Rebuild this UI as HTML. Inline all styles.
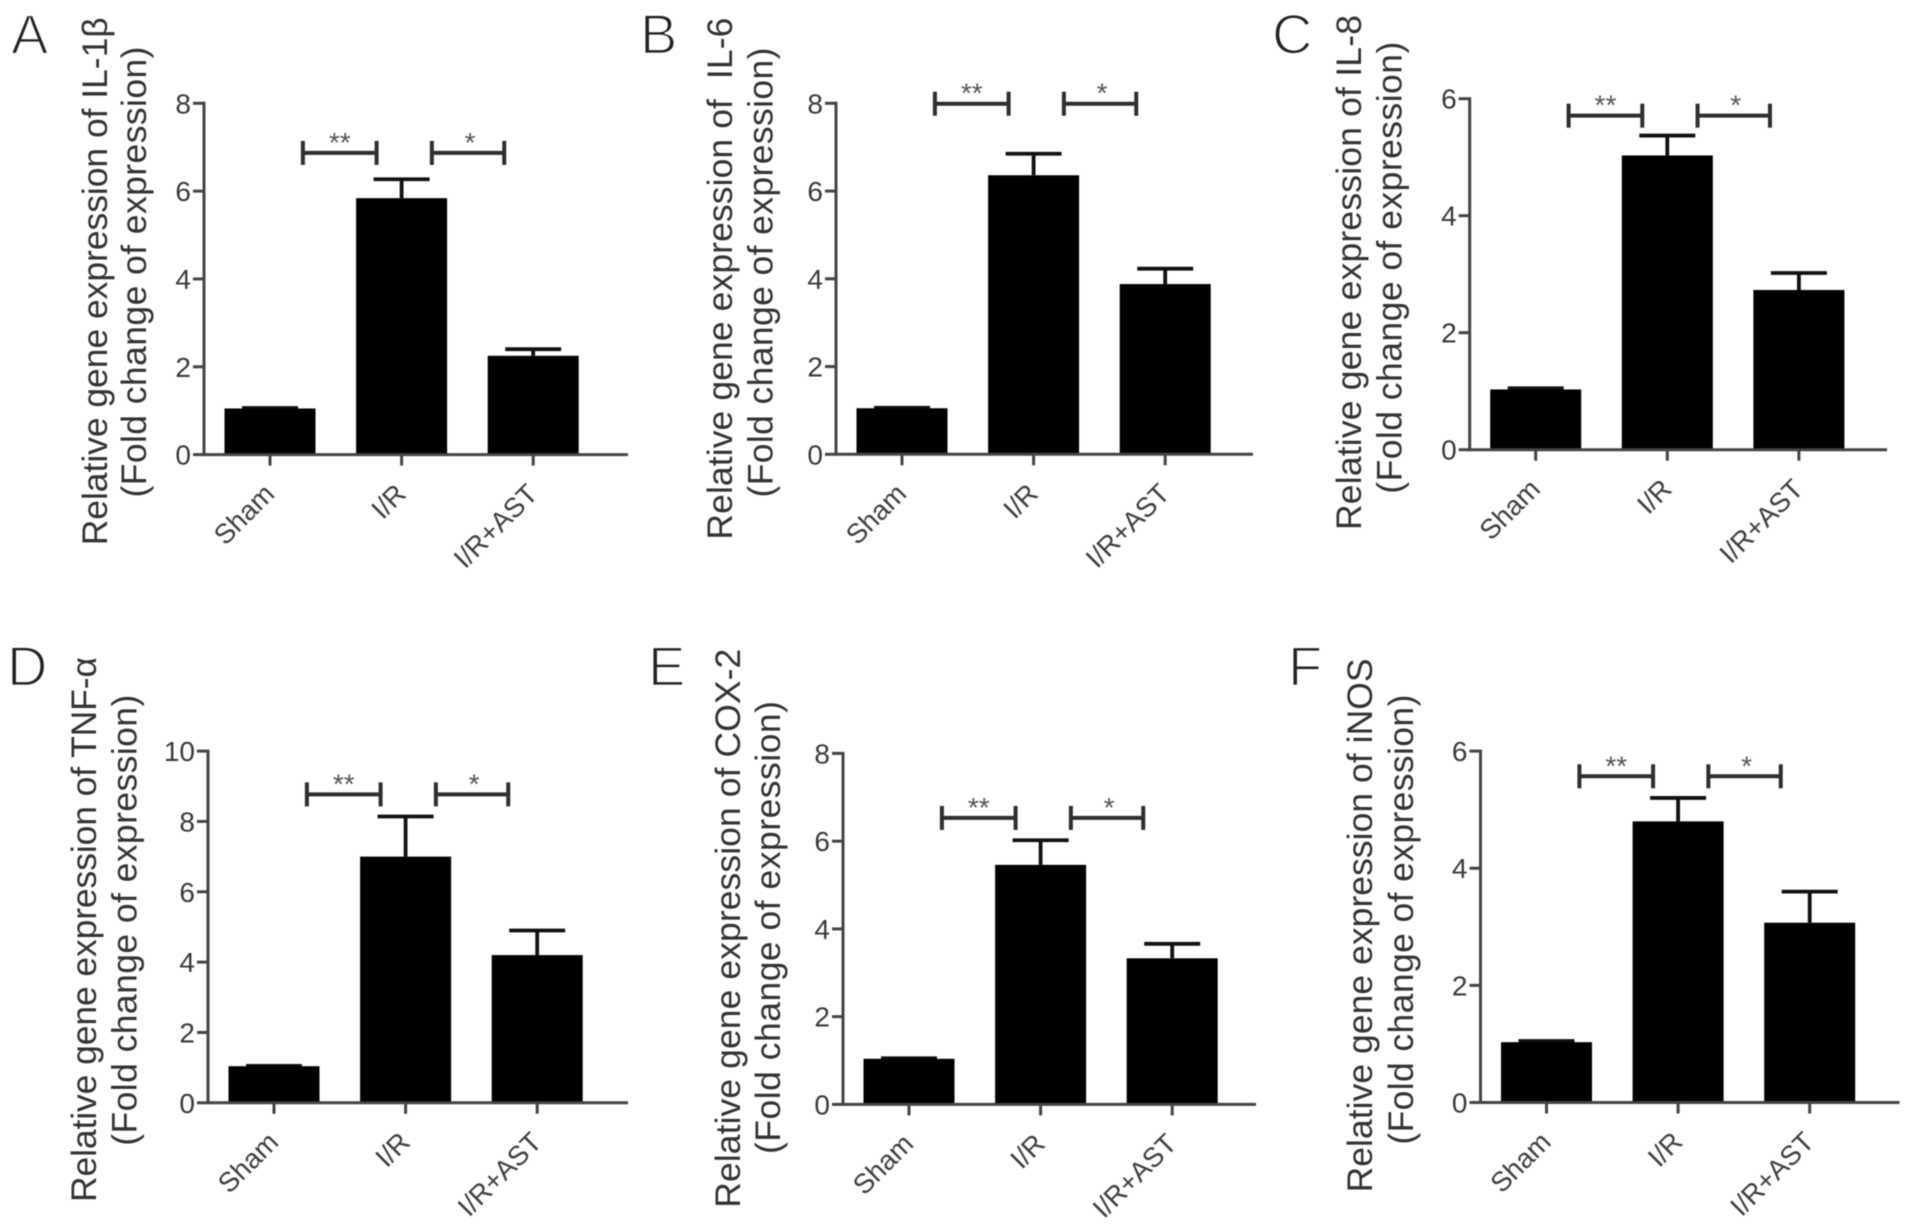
<!DOCTYPE html>
<html lang="en">
<head>
<meta charset="utf-8">
<title>Relative gene expression panels</title>
<style>
html,body{margin:0;padding:0;background:#fff;}
body{width:1913px;height:1226px;overflow:hidden;}
svg{display:block;filter:blur(0.6px);}
text{font-family:"Liberation Sans","DejaVu Sans",sans-serif;}
.letter{font-size:56px;fill:#222;stroke:#fff;stroke-width:1.7px;}
.ytitle{font-size:35.5px;fill:#333;white-space:pre;}
.tick{font-size:28px;fill:#3a3a3a;}
.cat{font-size:27.5px;fill:#3f3f3f;}
.star{font-size:28px;fill:#555;}
</style>
</head>
<body>
<svg id="figure" xmlns="http://www.w3.org/2000/svg" width="1913" height="1226" viewBox="0 0 1913 1226">
  <rect x="0" y="0" width="1913" height="1226" fill="#fff"/>

  <text class="letter" x="11" y="53.5">A</text>
  <text class="letter" x="640" y="53.5">B</text>
  <text class="letter" x="1272" y="53.5">C</text>
  <text class="letter" x="7" y="685.5">D</text>
  <text class="letter" x="648" y="685.5">E</text>
  <text class="letter" x="1288" y="685.5">F</text>

  <text class="ytitle" transform="translate(107,545.3) rotate(-90)" textLength="528">Relative gene expression of IL-1β</text>
  <text class="ytitle" transform="translate(146,497.5) rotate(-90)" textLength="451">(Fold change of expression)</text>

  <text class="ytitle" transform="translate(732,539.6) rotate(-90)" textLength="522">Relative gene expression of  IL-6</text>
  <text class="ytitle" transform="translate(772.6,497.5) rotate(-90)" textLength="450">(Fold change of expression)</text>

  <text class="ytitle" transform="translate(1361,530) rotate(-90)" textLength="515">Relative gene expression of IL-8</text>
  <text class="ytitle" transform="translate(1401.6,493.7) rotate(-90)" textLength="452">(Fold change of expression)</text>

  <text class="ytitle" transform="translate(96,1202) rotate(-90)" textLength="545">Relative gene expression of TNF-α</text>
  <text class="ytitle" transform="translate(136.7,1145.7) rotate(-90)" textLength="451">(Fold change of expression)</text>

  <text class="ytitle" transform="translate(740,1207.7) rotate(-90)" textLength="559">Relative gene expression of COX-2</text>
  <text class="ytitle" transform="translate(780,1154) rotate(-90)" textLength="453">(Fold change of expression)</text>

  <text class="ytitle" transform="translate(1372,1192.4) rotate(-90)" textLength="534">Relative gene expression of iNOS</text>
  <text class="ytitle" transform="translate(1413,1144.6) rotate(-90)" textLength="450">(Fold change of expression)</text>
</svg>

<script>
const categories = ['Sham', 'I/R', 'I/R+AST'];

const ticksA = [0, 2, 4, 6, 8];
const meansA = [1.05, 5.84, 2.25];
const errorTopsA = [1.06, 6.27, 2.4];
const bracketLevelA = 6.87;

const ticksB = [0, 2, 4, 6, 8];
const meansB = [1.05, 6.36, 3.88];
const errorTopsB = [1.06, 6.85, 4.23];
const bracketLevelB = 7.99;

const ticksC = [0, 2, 4, 6];
const meansC = [1.03, 5.03, 2.73];
const errorTopsC = [1.05, 5.37, 3.02];
const bracketLevelC = 5.71;

const ticksD = [0, 2, 4, 6, 8, 10];
const meansD = [1.04, 7.0, 4.2];
const errorTopsD = [1.05, 8.14, 4.9];
const bracketLevelD = 8.77;

const ticksE = [0, 2, 4, 6, 8];
const meansE = [1.04, 5.46, 3.33];
const errorTopsE = [1.05, 6.02, 3.66];
const bracketLevelE = 6.53;

const ticksF = [0, 2, 4, 6];
const meansF = [1.03, 4.8, 3.07];
const errorTopsF = [1.05, 5.2, 3.6];
const bracketLevelF = 5.57;

const significanceLabels = ['**', '*'];
const bracketSpans = [[0.25, 0.81], [1.23, 1.78]];

const NS = 'http://www.w3.org/2000/svg';
const figure = document.getElementById('figure');

function make(parent, tag, attrs) {
  const el = document.createElementNS(NS, tag);
  for (const k in attrs) el.setAttribute(k, attrs[k]);
  parent.appendChild(el);
  return el;
}

function drawPanel(id, frame, ticks, means, errorTops, bracketLevel) {
  const maxTick = ticks[ticks.length - 1];
  const yScale = v => frame.base - (v / maxTick) * (frame.base - frame.top);
  const xScale = i => frame.axisX + 66 + i * 131.6;
  const barWidth = 91;
  const capHalf = 28;
  const axisColor = '#444';

  const g = make(figure, 'g', {});
  
  

  means.forEach((v, i) => {
    const cx = xScale(i);
    const stem = make(g, 'line', {x1: cx, x2: cx, y1: yScale(v), y2: yScale(errorTops[i]), stroke: '#111', 'stroke-width': 3.8});
    
    
    const cap = make(g, 'line', {x1: cx - capHalf, x2: cx + capHalf, y1: yScale(errorTops[i]), y2: yScale(errorTops[i]), stroke: '#111', 'stroke-width': 3.8});
    
    
    const bar = make(g, 'rect', {x: cx - barWidth / 2, y: yScale(v), width: barWidth, height: frame.base - yScale(v), fill: '#000'});
    
    
  });

  const yAxis = make(g, 'line', {x1: frame.axisX, x2: frame.axisX, y1: frame.top - 1.5, y2: frame.base + 1.5, stroke: axisColor, 'stroke-width': 3});
  
  
  const xAxis = make(g, 'line', {x1: frame.axisX, x2: frame.endX, y1: frame.base, y2: frame.base, stroke: axisColor, 'stroke-width': 3});
  
  

  ticks.forEach(t => {
    const y = yScale(t);
    const mark = make(g, 'line', {x1: frame.axisX - 11, x2: frame.axisX, y1: y, y2: y, stroke: axisColor, 'stroke-width': 3});
    
    
    const label = make(g, 'text', {x: frame.axisX - 13, y: y + 10, 'text-anchor': 'end', class: 'tick'});
    label.textContent = t;
    
    
  });

  categories.forEach((c, i) => {
    const cx = xScale(i);
    const mark = make(g, 'line', {x1: cx, x2: cx, y1: frame.base, y2: frame.base + 11, stroke: axisColor, 'stroke-width': 3});
    
    
    const label = make(g, 'text', {'text-anchor': 'end', class: 'cat', transform: 'translate(' + (cx + 6) + ',' + (frame.base + 41) + ') rotate(-45)'});
    label.textContent = c;
    
    
  });

  const by = yScale(bracketLevel);
  bracketSpans.forEach((span, i) => {
    const x1 = xScale(span[0]);
    const x2 = xScale(span[1]);
    const color = '#2e2e2e';
    const h = make(g, 'line', {x1: x1, x2: x2, y1: by, y2: by, stroke: color, 'stroke-width': 4});
    
    
    const left = make(g, 'line', {x1: x1, x2: x1, y1: by - 12, y2: by + 12, stroke: color, 'stroke-width': 4});
    
    
    const right = make(g, 'line', {x1: x2, x2: x2, y1: by - 12, y2: by + 12, stroke: color, 'stroke-width': 4});
    
    
    const star = make(g, 'text', {x: (x1 + x2) / 2 + i * 2, y: by - 1, 'text-anchor': 'middle', class: 'star'});
    star.textContent = significanceLabels[i];
    
    
  });
}

drawPanel('a', {axisX: 204, top: 103.3, base: 454.6, endX: 628}, ticksA, meansA, errorTopsA, bracketLevelA);
drawPanel('b', {axisX: 836, top: 103.3, base: 454.3, endX: 1253}, ticksB, meansB, errorTopsB, bracketLevelB);
drawPanel('c', {axisX: 1469.7, top: 98.7, base: 449.7, endX: 1887}, ticksC, meansC, errorTopsC, bracketLevelC);
drawPanel('d', {axisX: 208, top: 751.1, base: 1102.8, endX: 628}, ticksD, meansD, errorTopsD, bracketLevelD);
drawPanel('e', {axisX: 843, top: 753.4, base: 1104.4, endX: 1256}, ticksE, meansE, errorTopsE, bracketLevelE);
drawPanel('f', {axisX: 1480.5, top: 751.1, base: 1102.5, endX: 1899.5}, ticksF, meansF, errorTopsF, bracketLevelF);
</script>
</body>
</html>
